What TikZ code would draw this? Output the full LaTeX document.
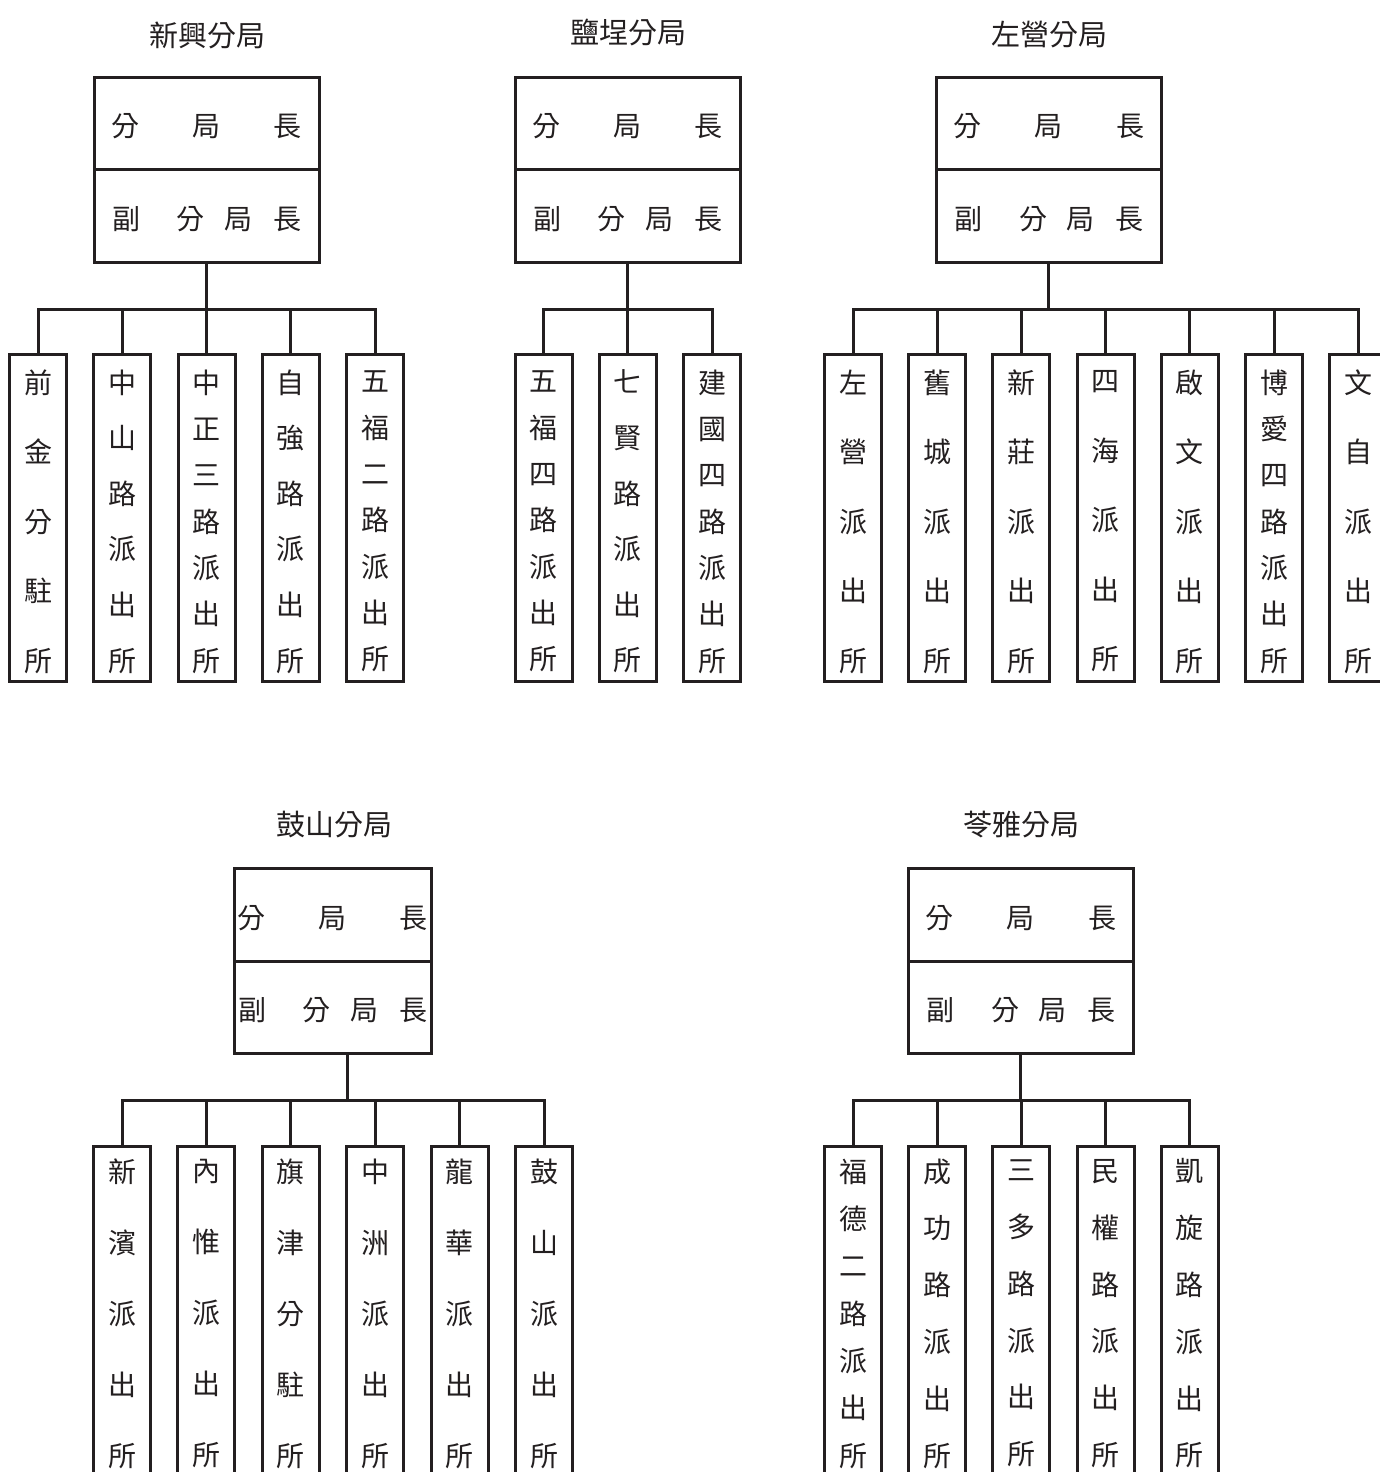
\documentclass[tikz,border=0pt]{standalone}
\usepackage{fontspec}
\setmainfont{Noto Sans CJK TC}
\definecolor{ink}{RGB}{35,31,32}
\newcommand\kfont[1]{\fontsize{28pt}{#1pt}\selectfont}
\newcommand\lowr[2]{\raisebox{-#1pt}[\height][\depth]{#2}}
\newcommand\vt[2]{\lowr{4}{\parbox{32pt}{\centering\kfont{#1}#2}}}
\newcommand\rowa{\lowr{3}{分\hspace{54pt}局\hspace{53pt}長}}
\newcommand\rowb{\lowr{3}{副\hspace{37pt}分\hspace{20pt}局\hspace{20pt}長}}
\begin{document}
\begin{tikzpicture}[x=1pt,y=-1pt,line join=miter,
  hd/.style={draw=ink,line width=3pt,minimum width=225pt,minimum height=92.5pt,inner sep=0pt,outer sep=0pt,text=ink,font=\fontsize{28pt}{32pt}\selectfont},
  kid/.style={draw=ink,line width=3pt,minimum width=57pt,minimum height=327pt,inner sep=0pt,outer sep=0pt,text=ink,anchor=north},
  ttl/.style={text=ink,font=\fontsize{29pt}{34pt}\selectfont,inner sep=0pt},
  ln/.style={draw=ink,line width=3pt}]
\useasboundingbox[fill=white] (0,0) rectangle (1379,1472);

% ---------- 新興分局 ----------
\node[ttl] (t1) at (207,35) {新興分局};
\node[hd] (g1a) at (206.5,123.25) {\rowa};
\node[hd] (g1b) at (206.5,215.75) {\rowb};
\coordinate (g1bus) at (206.5,309);
\node[kid] (k11) at (38,354) {\vt{69.5}{前\\金\\分\\駐\\所}};
\node[kid] (k12) at (122.25,354) {\vt{55.6}{中\\山\\路\\派\\出\\所}};
\node[kid] (k13) at (206.5,354) {\vt{46.33}{中\\正\\三\\路\\派\\出\\所}};
\node[kid] (k14) at (290.75,354) {\vt{55.6}{自\\強\\路\\派\\出\\所}};
\node[kid] (k15) at (375,354) {\vt{46.33}{五\\福\\二\\路\\派\\出\\所}};
\draw[ln] (g1b.south) -- (g1bus);
\draw[ln] (k11.north) -- (k11.north |- g1bus) -- (k15.north |- g1bus) -- (k15.north);
\foreach \k in {k12,k13,k14} \draw[ln] (\k.north) -- (\k.north |- g1bus);

% ---------- 鹽埕分局 ----------
\node[ttl] (t2) at (628,33) {鹽埕分局};
\node[hd] (g2a) at (627.5,123.25) {\rowa};
\node[hd] (g2b) at (627.5,215.75) {\rowb};
\coordinate (g2bus) at (627.5,309);
\node[kid] (k21) at (543.5,354) {\vt{46.33}{五\\福\\四\\路\\派\\出\\所}};
\node[kid] (k22) at (627.75,354) {\vt{55.6}{七\\賢\\路\\派\\出\\所}};
\node[kid] (k23) at (712,354) {\vt{46.33}{建\\國\\四\\路\\派\\出\\所}};
\draw[ln] (g2b.south) -- (g2bus);
\draw[ln] (k21.north) -- (k21.north |- g2bus) -- (k23.north |- g2bus) -- (k23.north);
\draw[ln] (k22.north) -- (k22.north |- g2bus);

% ---------- 左營分局 ----------
\node[ttl] (t3) at (1049,35) {左營分局};
\node[hd] (g3a) at (1048.5,123.25) {\rowa};
\node[hd] (g3b) at (1048.5,215.75) {\rowb};
\coordinate (g3bus) at (1048.5,309);
\node[kid] (k31) at (853,354) {\vt{69.5}{左\\營\\派\\出\\所}};
\node[kid] (k32) at (937.2,354) {\vt{69.5}{舊\\城\\派\\出\\所}};
\node[kid] (k33) at (1021.4,354) {\vt{69.5}{新\\莊\\派\\出\\所}};
\node[kid] (k34) at (1105.6,354) {\vt{69.5}{四\\海\\派\\出\\所}};
\node[kid] (k35) at (1189.8,354) {\vt{69.5}{啟\\文\\派\\出\\所}};
\node[kid] (k36) at (1274,354) {\vt{46.33}{博\\愛\\四\\路\\派\\出\\所}};
\node[kid] (k37) at (1358.2,354) {\vt{69.5}{文\\自\\派\\出\\所}};
\draw[ln] (g3b.south) -- (g3bus);
\draw[ln] (k31.north) -- (k31.north |- g3bus) -- (k37.north |- g3bus) -- (k37.north);
\foreach \k in {k32,k33,k34,k35,k36} \draw[ln] (\k.north) -- (\k.north |- g3bus);

% ---------- 鼓山分局 ----------
\node[ttl] (t4) at (334,825) {鼓山分局};
\node[hd,minimum width=197pt] (g4a) at (332.5,914.75) {\rowa};
\node[hd,minimum width=197pt] (g4b) at (332.5,1007.25) {\rowb};
\coordinate (g4bus) at (347,1100);
\node[kid] (k41) at (122,1146) {\vt{71}{新\\濱\\派\\出\\所}};
\node[kid] (k42) at (206.4,1146) {\vt{71}{內\\惟\\派\\出\\所}};
\node[kid] (k43) at (290.8,1146) {\vt{71}{旗\\津\\分\\駐\\所}};
\node[kid] (k44) at (375.2,1146) {\vt{71}{中\\洲\\派\\出\\所}};
\node[kid] (k45) at (459.6,1146) {\vt{71}{龍\\華\\派\\出\\所}};
\node[kid] (k46) at (544,1146) {\vt{71}{鼓\\山\\派\\出\\所}};
\draw[ln] (g4bus |- g4b.south) -- (g4bus);
\draw[ln] (k41.north) -- (k41.north |- g4bus) -- (k46.north |- g4bus) -- (k46.north);
\foreach \k in {k42,k43,k44,k45} \draw[ln] (\k.north) -- (\k.north |- g4bus);

% ---------- 苓雅分局 ----------
\node[ttl] (t5) at (1021,825) {苓雅分局};
\node[hd] (g5a) at (1020.5,914.75) {\rowa};
\node[hd] (g5b) at (1020.5,1007.25) {\rowb};
\coordinate (g5bus) at (1020.5,1100);
\node[kid] (k51) at (853,1146) {\vt{47.33}{福\\德\\二\\路\\派\\出\\所}};
\node[kid] (k52) at (937.2,1146) {\vt{56.8}{成\\功\\路\\派\\出\\所}};
\node[kid] (k53) at (1021.4,1146) {\vt{56.8}{三\\多\\路\\派\\出\\所}};
\node[kid] (k54) at (1105.6,1146) {\vt{56.8}{民\\權\\路\\派\\出\\所}};
\node[kid] (k55) at (1189.8,1146) {\vt{56.8}{凱\\旋\\路\\派\\出\\所}};
\draw[ln] (g5b.south) -- (g5bus);
\draw[ln] (k51.north) -- (k51.north |- g5bus) -- (k55.north |- g5bus) -- (k55.north);
\foreach \k in {k52,k53,k54} \draw[ln] (\k.north) -- (\k.north |- g5bus);
\end{tikzpicture}
\end{document}
